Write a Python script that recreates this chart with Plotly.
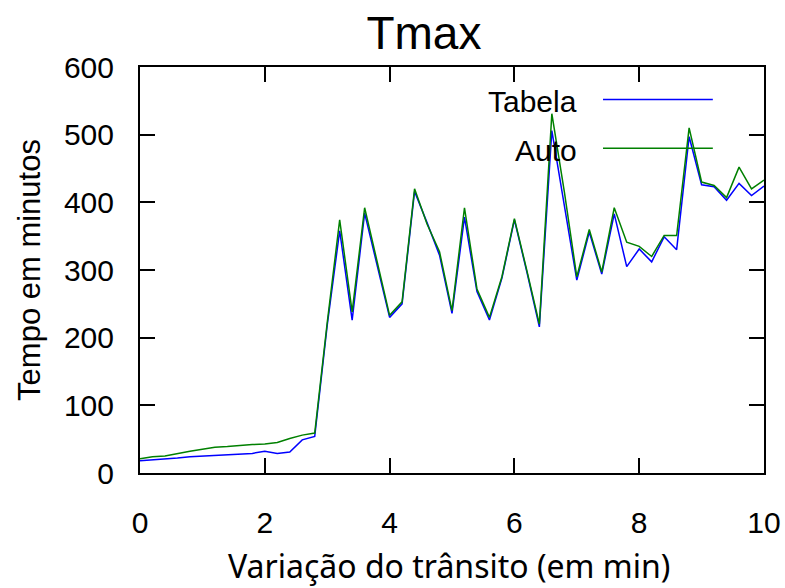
import plotly.graph_objects as go

x_vals = [round(i * 0.2, 1) for i in range(51)]

tabela = [18, 19, 20, 22, 24, 25, 26, 27, 28, 29, 32, 29, 31, 49, 54,
          218, 358, 226, 384, 307, 230, 250, 416, 370, 322, 236, 378, 268, 226, 288,
          374, 297, 216, 506, 397, 285, 356, 294, 383, 305, 331, 312, 349, 330, 497,
          426, 423, 403, 428, 410, 424]

auto = [21, 24, 25, 29, 32, 35, 38, 39, 41, 42, 43, 45, 51, 56, 59,
        222, 374, 238, 392, 312, 233, 253, 420, 368, 327, 240, 392, 272, 230, 290,
        376, 299, 220, 531, 416, 290, 360, 297, 392, 341, 335, 320, 351, 351, 510,
        430, 425, 407, 452, 420, 433]

x_ticks = [0, 2, 4, 6, 8, 10]
y_ticks = [0, 100, 200, 300, 400, 500, 600]

fig = go.Figure()
fig.add_trace(go.Scatter(x=x_vals, y=tabela, mode="lines", name="Tabela",
                         line=dict(color="#0000FF", width=1.5), showlegend=False))
fig.add_trace(go.Scatter(x=x_vals, y=auto, mode="lines", name="Auto",
                         line=dict(color="#008000", width=1.5), showlegend=False))

# gnuplot-style key: text right-aligned, line sample to the right
fig.add_annotation(x=0.703, y=0.915, xref="paper", yref="paper", text="Tabela",
                   showarrow=False, xanchor="right", yanchor="middle",
                   font=dict(family="Liberation Sans, Arial", size=30, color="black"))
fig.add_annotation(x=0.703, y=0.795, xref="paper", yref="paper", text="Auto",
                   showarrow=False, xanchor="right", yanchor="middle",
                   font=dict(family="Liberation Sans, Arial", size=30, color="black"))
fig.add_shape(type="line", xref="paper", yref="paper", x0=0.742, x1=0.918,
              y0=0.92, y1=0.92, line=dict(color="#0000FF", width=1.5))
fig.add_shape(type="line", xref="paper", yref="paper", x0=0.742, x1=0.918,
              y0=0.80, y1=0.80, line=dict(color="#008000", width=1.5))

# axis titles
fig.add_annotation(x=0.495, y=-0.228, xref="paper", yref="paper",
                   text="Variação do trânsito (em min)", showarrow=False,
                   xanchor="center", yanchor="middle",
                   font=dict(family="Noto Sans", size=32, color="black"))
fig.add_annotation(x=-0.178, y=0.5, xref="paper", yref="paper",
                   text="Tempo em minutos", showarrow=False, textangle=-90,
                   xanchor="center", yanchor="middle",
                   font=dict(family="Liberation Sans, Arial", size=31, color="black"))

axis_common = dict(showgrid=False, zeroline=False, showline=True, linecolor="black",
                   linewidth=2, mirror="allticks", ticks="inside", ticklen=15,
                   tickwidth=2, tickcolor="black", automargin=False,
                   tickfont=dict(family="Liberation Sans, Arial", size=30, color="black"))

fig.update_layout(
    width=785, height=588,
    margin=dict(l=140, r=21, t=67, b=115),
    paper_bgcolor="white", plot_bgcolor="white",
    title=dict(text="Tmax", x=0.54, xref="container", xanchor="center",
               y=1 - 33 / 588, yref="container", yanchor="middle",
               font=dict(family="Liberation Sans, Arial", size=46, color="black")),
    xaxis=dict(range=[0, 10], tickvals=x_ticks, ticklabelstandoff=22, **axis_common),
    yaxis=dict(range=[0, 600], tickvals=y_ticks, ticklabelstandoff=18, **axis_common),
)

fig.write_html("out.html")
